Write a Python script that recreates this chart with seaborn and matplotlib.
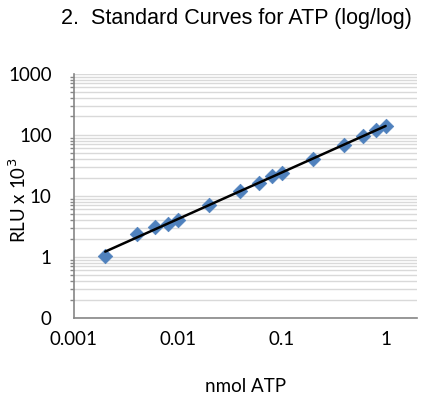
import numpy as np
import pandas as pd
import matplotlib
matplotlib.use("Agg")
import matplotlib.pyplot as plt
import seaborn as sns
from matplotlib.ticker import FixedLocator, FuncFormatter, NullLocator, LogLocator

nmol_atp = [0.002, 0.004, 0.006, 0.008, 0.01, 0.02, 0.04, 0.06, 0.08, 0.1, 0.2, 0.4, 0.6, 0.8, 1.0]
rlu_k = [1.05, 2.4, 3.1, 3.5, 4.0, 7.0, 12.0, 16.0, 21.0, 24.0, 40.0, 68.0, 95.0, 120.0, 140.0]
x_ticks = [0.001, 0.01, 0.1, 1]
x_tick_labels = ["0.001", "0.01", "0.1", "1"]
y_ticks = [0.1, 1, 10, 100, 1000]
y_tick_labels = ["0", "1", "10", "100", "1000"]

df = pd.DataFrame({"x": nmol_atp, "y": rlu_k})
# power-law trendline fitted to the data
b, a = np.polyfit(np.log10(df.x), np.log10(df.y), 1)
xs = np.array([min(nmol_atp), max(nmol_atp)])
trend = pd.DataFrame({"x": xs, "y": 10 ** (a + b * np.log10(xs))})

sns.set_theme(style="white")
plt.rcParams["font.family"] = ["Lato", "DejaVu Sans"]
plt.rcParams["text.color"] = "black"
plt.rcParams["axes.labelcolor"] = "black"

fig = plt.figure(figsize=(4.25, 3.99), dpi=100)
ax = fig.add_axes([0.174, 0.203, 0.807, 0.612])
ax.set_xscale("log")
ax.set_yscale("log")
ax.set_xlim(0.001, 2.0)
ax.set_ylim(0.1, 1000)

sns.scatterplot(data=df, x="x", y="y", ax=ax, marker="D", s=55, color="#4F81BD",
                edgecolor="#4F81BD", linewidth=0.5, zorder=3)
sns.lineplot(data=trend, x="x", y="y", ax=ax, color="black", linewidth=1.8, zorder=4)


def nearest_label(v, ticks, labels):
    i = int(np.argmin([abs(np.log10(t) - np.log10(v)) for t in ticks]))
    return labels[i]


ax.yaxis.set_major_locator(FixedLocator(y_ticks))
ax.yaxis.set_major_formatter(FuncFormatter(lambda v, p: nearest_label(v, y_ticks, y_tick_labels)))
ax.yaxis.set_minor_locator(LogLocator(base=10, subs=np.arange(2, 10), numticks=20))
ax.xaxis.set_major_locator(FixedLocator(x_ticks))
ax.xaxis.set_major_formatter(FuncFormatter(lambda v, p: nearest_label(v, x_ticks, x_tick_labels)))
ax.xaxis.set_minor_locator(NullLocator())

ax.grid(True, which="both", axis="y", color="#D9D9D9", linewidth=1.0)
ax.grid(False, axis="x")
ax.set_axisbelow(True)

for s in ["top", "right"]:
    ax.spines[s].set_visible(False)
for s in ["left", "bottom"]:
    ax.spines[s].set_color("#868686")
    ax.spines[s].set_linewidth(1.2)

ax.tick_params(axis="both", which="major", direction="out", length=5, width=1.2,
               color="#868686", labelsize=13.5, labelcolor="black")
ax.tick_params(axis="y", which="major", pad=11)
ax.tick_params(axis="x", which="major", pad=4)
ax.tick_params(axis="y", which="minor", direction="out", length=3, width=1.0, color="#868686", left=True)

ax.set_xlabel("nmol ATP", fontsize=13.5, labelpad=22, color="black")
ax.set_ylabel("RLU x 10$^3$", fontsize=13.5, color="black")
ax.yaxis.set_label_coords(-0.132, 0.48)

fig.text(0.557, 0.953, "2.  Standard Curves for ATP (log/log)", ha="center", va="center",
         fontsize=15.5, color="black", family=["Liberation Sans", "DejaVu Sans"])

fig.savefig("out.png", dpi=100)
